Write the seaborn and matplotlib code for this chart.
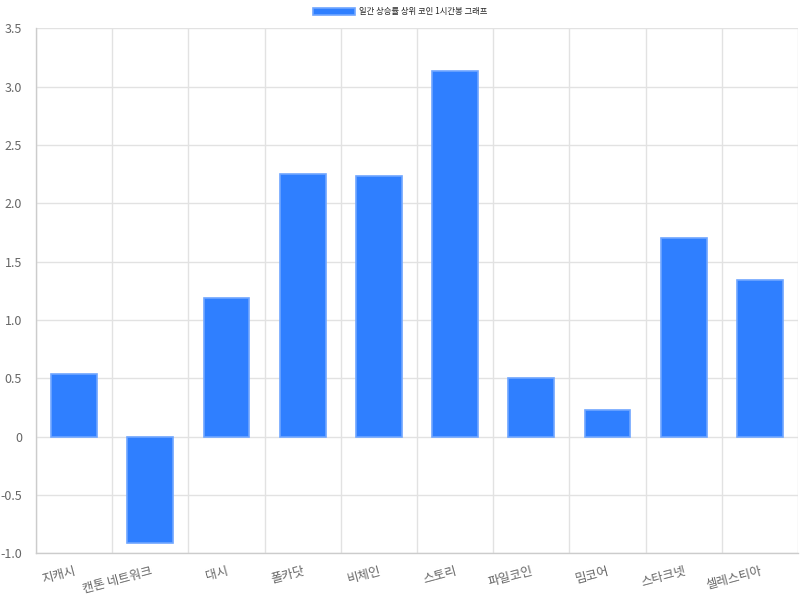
import numpy as np
import pandas as pd
import matplotlib
matplotlib.use('Agg')
import matplotlib.pyplot as plt
import seaborn as sns
from matplotlib.ticker import MultipleLocator, FuncFormatter, FixedLocator

coins = ['지캐시', '캔톤 네트워크', '대시', '폴카닷', '비체인', '스토리',
         '파일코인', '밈코어', '스타크넷', '셀레스티아']
changes = [0.54, -0.91, 1.19, 2.25, 2.23, 3.13, 0.50, 0.23, 1.70, 1.34]
series_name = '일간 상승률 상위 코인 1시간봉 그래프'

sns.set_style('white')
plt.rcParams['font.family'] = ['Noto Sans CJK KR', 'DejaVu Sans']

df = pd.DataFrame({'coin': coins, 'change': changes})

fig = plt.figure(figsize=(8, 6), dpi=100)
ax = fig.add_axes([0.045, 0.078, 0.9525, 0.875])

sns.barplot(data=df, x='coin', y='change', color='#2f7fff', width=0.6,
            edgecolor='#6fa6ff', linewidth=1.2, saturation=1, ax=ax,
            label=series_name)

ax.set_ylim(-1.0, 3.5)
ax.set_xlim(-0.5, len(coins) - 0.5)
ax.yaxis.set_major_locator(MultipleLocator(0.5))
ax.yaxis.set_major_formatter(FuncFormatter(lambda v, p: '0' if abs(v) < 1e-9 else f'{v:.1f}'))

# gridlines at category boundaries
ax.xaxis.set_minor_locator(FixedLocator(np.arange(-0.5, len(coins), 1.0)))
ax.grid(True, which='minor', axis='x', color='#e2e2e2', linewidth=1)
ax.grid(True, which='major', axis='y', color='#e2e2e2', linewidth=1)
ax.set_axisbelow(True)
ax.tick_params(axis='x', which='minor', length=8, color='#e2e2e2')
ax.tick_params(axis='x', which='major', length=0, pad=8)
ax.tick_params(axis='y', length=8, color='#e2e2e2', labelsize=9, labelcolor='#666666', pad=2)

for lbl in ax.get_xticklabels():
    lbl.set_rotation(15)
    lbl.set_ha('right')
    lbl.set_rotation_mode('anchor')
    lbl.set_fontsize(9)
    lbl.set_color('#666666')

for s in ['top', 'right']:
    ax.spines[s].set_visible(False)
for s in ['left', 'bottom']:
    ax.spines[s].set_color('#cccccc')
    ax.spines[s].set_linewidth(1)

ax.set_xlabel('')
ax.set_ylabel('')

leg = fig.legend(handles=ax.patches[:1], labels=[series_name], loc='upper center',
                 bbox_to_anchor=(0.5, 1.0), frameon=False, fontsize=6,
                 handlelength=5.0, handleheight=1.0, handletextpad=0.5)
if ax.get_legend() is not None:
    ax.get_legend().remove()

fig.savefig('out.png', dpi=100)
